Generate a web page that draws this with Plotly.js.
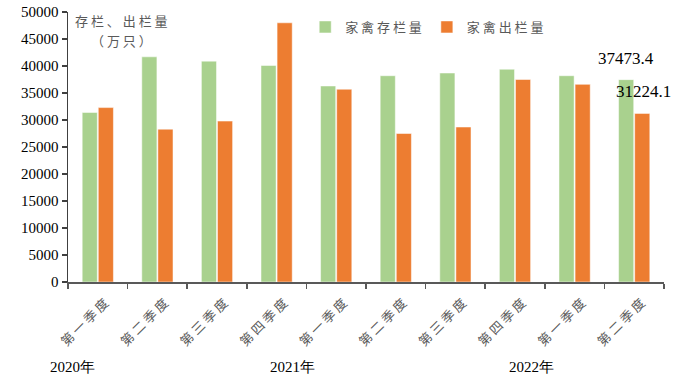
<!DOCTYPE html>
<html>
<head>
<meta charset="utf-8">
<script src="https://cdn.plot.ly/plotly-3.0.1.min.js"></script>
<style>html,body{margin:0;padding:0;background:#fff;}#chart{width:686px;height:384px;}</style>
</head>
<body>
<div id="chart"></div>
<script>
const quarters = ["第一季度","第二季度","第三季度","第四季度","第一季度","第二季度","第三季度","第四季度","第一季度","第二季度"];
const years = ["2020年","2021年","2022年"];
const stock = [31400, 41700, 40900, 40100, 36300, 38200, 38700, 39400, 38200, 37473.4];
const outflow = [32300, 28300, 29800, 48000, 35700, 27500, 28700, 37500, 36600, 31224.1];
const seriesNames = ["家禽存栏量","家禽出栏量"];
const yTitleLines = ["存栏、出栏量","（万只）"];

const idx = quarters.map((_, i) => i);
const boundaries = quarters.map((_, i) => i - 0.5).concat([quarters.length - 0.5]);
const spaced = s => s.split('').join(' ');

const cjk = 'Noto Sans CJK SC, Noto Sans, sans-serif';
const serif = 'Liberation Serif, Times New Roman, serif';

const traces = [
  {type:'bar', x: idx, y: stock, name: spaced(seriesNames[0]),
   marker:{color:'#A9D18E', line:{color:'#ffffff', width:0.5}}},
  {type:'bar', x: idx, y: outflow, name: spaced(seriesNames[1]),
   marker:{color:'#ED7D31', line:{color:'#ffffff', width:0.5}}},
  {type:'scatter', x: idx, y: idx.map(() => 0), xaxis:'x2', mode:'markers',
   marker:{opacity:0}, showlegend:false, hoverinfo:'skip'}
];

const last = quarters.length - 1;
const annotations = [
  {xref:'paper', yref:'paper', x:0.089, y:0.968, xanchor:'center', yanchor:'middle',
   text: spaced(yTitleLines[0]), showarrow:false,
   font:{family:cjk, size:13, color:'#595959'}},
  {xref:'paper', yref:'paper', x:0.089, y:0.895, xanchor:'center', yanchor:'middle',
   text: spaced(yTitleLines[1]), showarrow:false,
   font:{family:cjk, size:13, color:'#595959'}},
  {xref:'x', yref:'y', x: last, y: stock[last], xshift:-8, yshift:10, yanchor:'bottom',
   text: String(stock[last]), showarrow:false, font:{family:serif, size:17, color:'#000'}},
  {xref:'x', yref:'y', x: last, y: outflow[last], xshift:9, yshift:10, yanchor:'bottom',
   text: String(outflow[last]), showarrow:false, font:{family:serif, size:17, color:'#000'}}
];
const yearPos = [0.0076, 0.376, 0.777];
years.forEach((yr, k) => {
  annotations.push({xref:'paper', yref:'paper', x: yearPos[k], y:-0.315, xanchor:'center', yanchor:'middle',
    text: yr, showarrow:false, font:{family:serif, size:15, color:'#000'}});
});

const layout = {
  width:686, height:384,
  margin:{l:68, r:22, t:12, b:102, autoexpand:false},
  paper_bgcolor:'#fff', plot_bgcolor:'#fff',
  barmode:'group', bargap:0.46, bargroupgap:0.06,
  showlegend:true,
  legend:{orientation:'h', x:0.398, y:1.0, xanchor:'left', yanchor:'top',
    font:{family:cjk, size:13, color:'#595959'}, bgcolor:'rgba(0,0,0,0)',
    itemwidth:30, traceorder:'normal'},
  xaxis:{range:[-0.5, quarters.length - 0.5], tickmode:'array', tickvals: boundaries,
    showticklabels:false, ticks:'outside', ticklen:5, tickcolor:'#595959', tickwidth:1.5,
    showline:true, linecolor:'#595959', linewidth:1.5, showgrid:false, zeroline:false, fixedrange:true},
  xaxis2:{overlaying:'x', matches:'x', side:'bottom', anchor:'y', tickmode:'array',
    tickvals: idx.map(i => i + 0.12), ticktext: quarters.map(spaced), tickangle:-45, ticks:'',
    ticklabelstandoff:10,
    showline:false, showgrid:false, zeroline:false,
    tickfont:{family:cjk, size:13, color:'#595959'}},
  yaxis:{range:[0, 50000], tickmode:'linear', tick0:0, dtick:5000, tickformat:'d',
    ticks:'outside', ticklen:5,
    tickcolor:'#404040', tickwidth:1.5, showline:true, linecolor:'#404040', linewidth:1.5,
    showgrid:false, zeroline:false, tickfont:{family:serif, size:15, color:'#000'}},
  annotations: annotations
};

Plotly.newPlot('chart', traces, layout, {displayModeBar:false, staticPlot:true});
</script>
</body>
</html>
